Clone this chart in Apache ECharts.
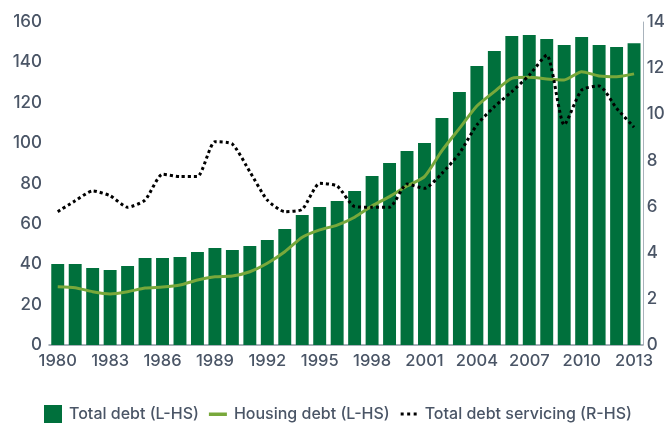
<!DOCTYPE html>
<html>
<head>
<meta charset="utf-8">
<style>
  html, body { margin: 0; padding: 0; background: #fff; }
  #main { width: 668px; height: 424px; }
</style>
<script src="https://cdn.jsdelivr.net/npm/echarts@6/dist/echarts.min.js"></script>
</head>
<body>
<div id="main"></div>
<script>
// data
const years = [];
for (let y = 1980; y <= 2013; y++) years.push(String(y));

const totalDebt = [40.1, 40.1, 38.1, 37.2, 39.1, 43.1, 43.1, 43.6, 46.1, 48.1,
    47.1, 49.0, 52.0, 57.5, 64.4, 68.4, 71.3, 76.3, 83.7, 90.2,
    96.1, 100.1, 112.5, 125.3, 138.2, 145.6, 153.1, 153.6, 151.6, 148.6,
    152.6, 148.6, 147.6, 149.5];

const housingDebt = [28.9, 28.4, 26.4, 25.3, 26.4, 28.2, 28.7, 29.7, 32.2, 33.8,
    34.2, 36.3, 40.5, 46.2, 53.4, 57.0, 59.4, 63.3, 68.9, 73.5,
    78.8, 83.4, 96.3, 107.3, 118.4, 125.5, 132.1, 132.6, 131.8, 131.3,
    135.4, 133.3, 132.9, 134.3];

const debtServicing = [5.78, 6.25, 6.68, 6.47, 5.97, 6.28, 7.40, 7.30, 7.30, 8.81,
    8.71, 7.51, 6.28, 5.78, 5.88, 7.01, 6.89, 6.00, 5.97, 5.97,
    6.98, 6.79, 7.44, 8.31, 9.54, 10.33, 10.98, 11.70, 12.57, 9.54,
    11.05, 11.23, 10.26, 9.44];

const textColor = '#4a5566';
const font = 'Inter';

// legend icons: padded bounding box so the shapes stay thin
const lineIcon = 'path://M0,0M18,18M0,7.5h18v3.5h-18z';
const dotsIcon = 'path://M0,0M18,18M1,7.5h3v3h-3zM7.5,7.5h3v3h-3zM14,7.5h3v3h-3z';

function chart() {
    let myChart = echarts.init(document.querySelector('#main'));
    let option = {
        animation: false,
        textStyle: { fontFamily: font },
        grid: { left: 49, right: 21, top: 22, bottom: 79 },
        legend: {
            left: 44,
            top: 405,
            padding: 0,
            itemWidth: 18,
            itemHeight: 18,
            itemGap: 10,
            textStyle: { color: textColor, fontSize: 16, fontWeight: 500, fontFamily: font, padding: [0, 0, 0, 2] },
            data: [
                { name: 'Total debt (L-HS)', icon: 'rect' },
                { name: 'Housing debt (L-HS)', icon: lineIcon },
                { name: 'Total debt servicing (R-HS)', icon: dotsIcon }
            ]
        },
        xAxis: {
            type: 'category',
            data: years,
            axisTick: { show: false },
            axisLine: { lineStyle: { color: '#8c97a3', width: 1.5 } },
            axisLabel: { interval: 2, color: textColor, fontSize: 16.5, fontWeight: 500, margin: 8 }
        },
        yAxis: [
            {
                type: 'value',
                min: 0,
                max: 160,
                interval: 20,
                splitLine: { show: false },
                axisLine: { show: false },
                axisTick: { show: false },
                axisLabel: { color: textColor, fontSize: 17, fontWeight: 500, margin: 7 }
            },
            {
                type: 'value',
                min: 0,
                max: 14,
                interval: 2,
                position: 'right',
                splitLine: { show: false },
                axisLine: { show: true, lineStyle: { color: '#a9b3bc', width: 1 } },
                axisTick: { show: false },
                axisLabel: { color: textColor, fontSize: 17, fontWeight: 500, margin: 4 }
            }
        ],
        series: [
            {
                name: 'Total debt (L-HS)',
                type: 'bar',
                data: totalDebt,
                barCategoryGap: '26%',
                itemStyle: { color: '#00703c' }
            },
            {
                name: 'Housing debt (L-HS)',
                type: 'line',
                data: housingDebt,
                symbol: 'none',
                smooth: 0.2,
                lineStyle: { color: '#78a83b', width: 3 },
                itemStyle: { color: '#78a83b' }
            },
            {
                name: 'Total debt servicing (R-HS)',
                type: 'line',
                yAxisIndex: 1,
                data: debtServicing,
                symbol: 'none',
                smooth: 0.2,
                lineStyle: { color: '#000', width: 3, type: 'dotted' },
                itemStyle: { color: '#000' }
            }
        ]
    };
    myChart.setOption(option);
}
chart();
</script>
</body>
</html>
